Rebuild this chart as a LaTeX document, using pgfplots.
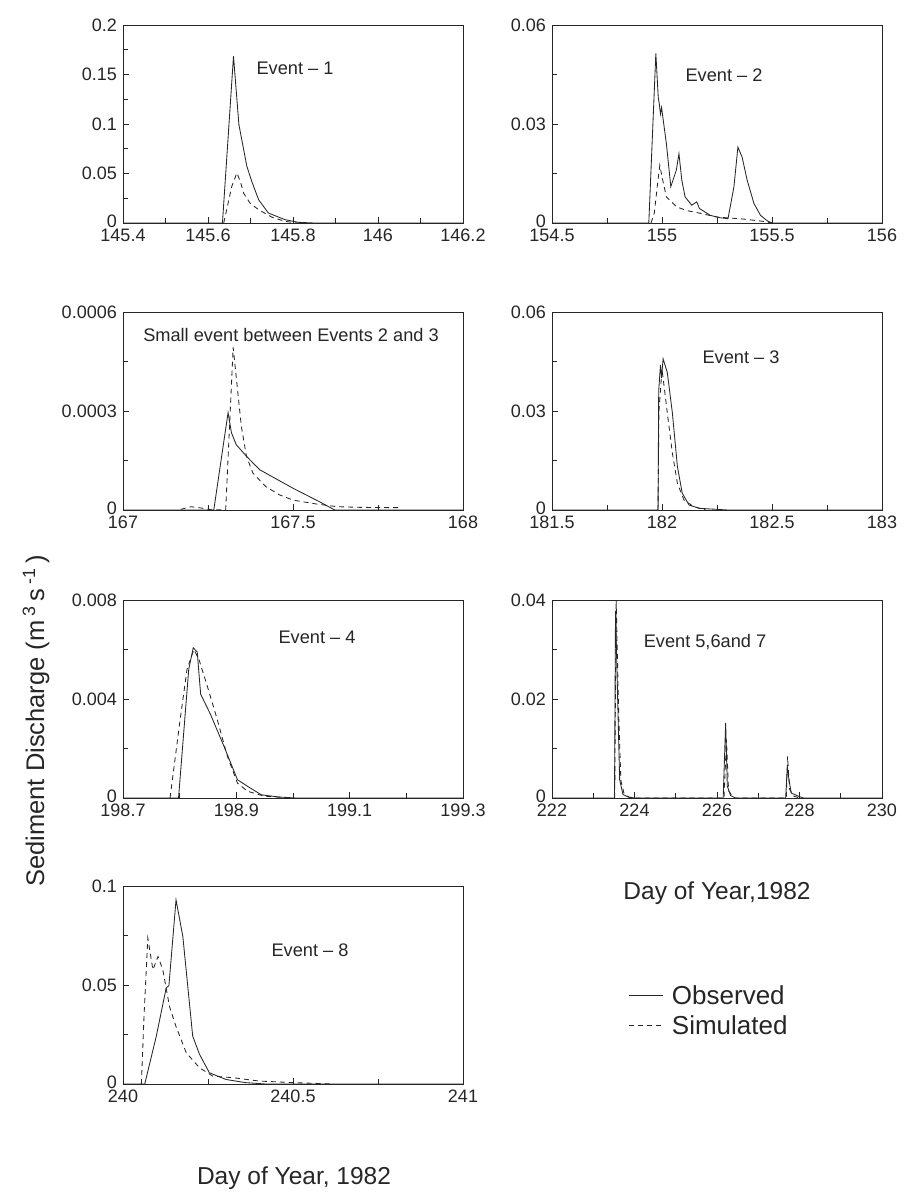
\documentclass[border=0pt]{standalone}
\usepackage{pgfplots}
\pgfplotsset{compat=1.18}
\usepackage{fontspec}
\setmainfont{Liberation Sans}
\newcommand{\tfont}{\fontsize{18}{20}\selectfont}
\newcommand{\efont}{\fontsize{18.2}{20}\selectfont}
\newcommand{\zr}{\raisebox{-4.5pt}[0pt][0pt]{0}}
\pgfplotsset{
  panel/.style={scale only axis, anchor=south west, height=198pt,
    axis line style={line width=0.9pt, black!85},
    tick align=inside, tick pos=left,
    major tick length=6pt, minor tick length=5pt,
    every tick/.style={black!85, line width=0.7pt},
    ticklabel style={font=\tfont, text=black!85},
    xticklabel style={inner sep=0pt, yshift=-6pt},
    yticklabel style={inner sep=1pt, xshift=-5pt},
    scaled ticks=false,
  },
  leftcol/.style={panel, width=340pt},
  rightcol/.style={panel, width=330pt},
  obs/.style={black!85, line width=0.85pt, mark=none, solid},
  sim/.style={black!85, line width=0.85pt, mark=none, dash pattern=on 5pt off 4pt},
}
\begin{document}
\begin{tikzpicture}
\path[use as bounding box] (0pt,0pt) rectangle (903pt,-1192pt);

% Panel 1
\begin{axis}[leftcol, at={(123pt,-223pt)},
  xmin=145.4, xmax=146.2, ymin=0, ymax=0.2,
  xtick={145.4,145.6,145.8,146,146.2}, xticklabels={145.4,145.6,145.8,146,146.2},
  minor xtick={145.5,145.7,145.9,146.1},
  ytick={0,0.05,0.1,0.15,0.2}, yticklabels={\zr,0.05,0.1,0.15,0.2},
  minor ytick={0.025,0.075,0.125,0.175}]
\addplot[obs] coordinates {(145.4,0) (145.634,0) (145.66,0.1685) (145.6727,0.0994) (145.6914,0.0573) (145.703,0.042) (145.719,0.0236) (145.742,0.0101) (145.781,0.0034) (145.8125,0.0007) (145.85,0) (146.2,0)};
\addplot[sim] coordinates {(145.637,0) (145.656,0.037) (145.668,0.0506) (145.676,0.042) (145.684,0.030) (145.699,0.020) (145.719,0.0135) (145.75,0.006) (145.781,0.0017) (145.81,0)};
\end{axis}

% Panel 2
\begin{axis}[rightcol, at={(552pt,-223pt)},
  xmin=154.5, xmax=156, ymin=0, ymax=0.06,
  xtick={154.5,155,155.5,156}, xticklabels={154.5,155,155.5,156},
  minor xtick={154.75,155.25,155.75},
  ytick={0,0.03,0.06}, yticklabels={\zr,0.03,0.06},
  minor ytick={0.015,0.045}]
\addplot[obs] coordinates {(154.5,0) (154.94,0) (154.972,0.0514) (154.983,0.038) (154.988,0.036) (154.993,0.033) (154.998,0.035) (155.004,0.032) (155.02,0.024) (155.04,0.011) (155.065,0.016) (155.077,0.021) (155.09,0.013) (155.105,0.0079) (155.135,0.0054) (155.158,0.0064) (155.17,0.0044) (155.22,0.0023) (155.264,0.0016) (155.30,0.0013) (155.327,0.011) (155.345,0.023) (155.364,0.020) (155.387,0.013) (155.418,0.0059) (155.448,0.0023) (155.48,0.0006) (155.5,0) (156,0)};
\addplot[sim] coordinates {(154.95,0) (154.965,0.003) (154.98,0.012) (154.99,0.0175) (155.0,0.014) (155.02,0.0079) (155.067,0.0049) (155.11,0.0038) (155.17,0.003) (155.25,0.0018) (155.37,0.0012) (155.46,0.0005) (155.5,0)};
\end{axis}

% Panel 3
\begin{axis}[leftcol, at={(123pt,-510pt)},
  xmin=167, xmax=168, ymin=0, ymax=0.0006,
  xtick={167,167.5,168}, xticklabels={167,167.5,168},
  minor xtick={167.25,167.75},
  ytick={0,0.0003,0.0006}, yticklabels={\zr,0.0003,0.0006},
  minor ytick={0.00015,0.00045}]
\addplot[obs] coordinates {(167,0) (167.267,0) (167.309,0.000295) (167.319,0.000234) (167.333,0.000198) (167.363,0.000163) (167.402,0.000122) (167.5,0.000066) (167.578,0.000025) (167.623,0) (168,0)};
\addplot[sim] coordinates {(167.17,0.000002) (167.2,0.00001) (167.23,0.000006) (167.26,0.000001) (167.302,0) (167.324,0.000493) (167.348,0.000254) (167.363,0.000163) (167.382,0.000112) (167.42,0.000071) (167.46,0.000046) (167.5,0.00003) (167.57,0.000018) (167.63,0.00001) (167.7,0.000008) (167.82,0.000007)};
\end{axis}

% Panel 4
\begin{axis}[rightcol, at={(552pt,-510pt)},
  xmin=181.5, xmax=183, ymin=0, ymax=0.06,
  xtick={181.5,182,182.5,183}, xticklabels={181.5,182,182.5,183},
  minor xtick={181.75,182.25,182.75},
  ytick={0,0.03,0.06}, yticklabels={\zr,0.03,0.06},
  minor ytick={0.015,0.045}]
\addplot[obs] coordinates {(181.5,0) (181.982,0) (181.985,0.036) (181.993,0.044) (181.998,0.040) (182.005,0.0458) (182.024,0.0417) (182.047,0.0295) (182.07,0.0132) (182.092,0.0051) (182.123,0.0015) (182.17,0.0005) (182.25,0.0002) (182.3,0) (183,0)};
\addplot[sim] coordinates {(181.982,0) (181.986,0.03) (182.0,0.0427) (182.024,0.0295) (182.047,0.0173) (182.07,0.0081) (182.1,0.003) (182.145,0.001) (182.2,0)};
\end{axis}

% Panel 5
\begin{axis}[leftcol, at={(123pt,-798pt)},
  xmin=198.7, xmax=199.3, ymin=0, ymax=0.008,
  xtick={198.7,198.9,199.1,199.3}, xticklabels={198.7,198.9,199.1,199.3},
  minor xtick={198.8,199.0,199.2},
  ytick={0,0.004,0.008}, yticklabels={\zr,0.004,0.008},
  minor ytick={0.002,0.006}]
\addplot[obs] coordinates {(198.7,0) (198.798,0) (198.816,0.0052) (198.824,0.00607) (198.831,0.0059) (198.837,0.0042) (198.854,0.0034) (198.878,0.0021) (198.902,0.00074) (198.92,0.00047) (198.944,0.00013) (198.975,0.00004) (199.005,0) (199.3,0)};
\addplot[sim] coordinates {(198.783,0) (198.801,0.0032) (198.813,0.0052) (198.825,0.006) (198.834,0.0056) (198.849,0.0045) (198.866,0.0032) (198.884,0.0017) (198.902,0.0006) (198.92,0.00027) (198.95,0.00007) (199.0,0)};
\end{axis}

% Panel 6
\begin{axis}[rightcol, at={(552pt,-798pt)},
  xmin=222, xmax=230, ymin=0, ymax=0.04,
  xtick={222,224,226,228,230}, xticklabels={222,224,226,228,230},
  minor xtick={223,225,227,229},
  ytick={0,0.02,0.04}, yticklabels={\zr,0.02,0.04},
  minor ytick={0.01,0.03}]
\addplot[obs] coordinates {(222,0) (223.515,0) (223.54,0.0378) (223.6,0.0172) (223.64,0.0037) (223.72,0.0007) (223.85,0.0002) (224.0,0) (226.15,0) (226.21,0.0152) (226.25,0.0024) (226.33,0.0005) (226.45,0) (227.665,0) (227.705,0.0064) (227.745,0.0037) (227.8,0.001) (227.99,0.0003) (228.1,0) (230,0)};
\addplot[sim] coordinates {(223.52,0) (223.555,0.04) (223.62,0.0159) (223.67,0.0035) (223.75,0.0008) (223.9,0) (226.17,0) (226.23,0.0118) (226.28,0.0015) (226.4,0) (227.68,0) (227.71,0.0084) (227.76,0.0018) (227.85,0.0004) (228.0,0)};
\end{axis}

% Panel 7
\begin{axis}[leftcol, at={(123pt,-1084pt)},
  xmin=240, xmax=241, ymin=0, ymax=0.1,
  xtick={240,240.5,241}, xticklabels={240,240.5,241},
  minor xtick={240.25,240.75},
  ytick={0,0.05,0.1}, yticklabels={\zr,0.05,0.1},
  minor ytick={0.025,0.075},
  legend style={at={(rel axis cs:1.485,0.505)}, anchor=north west, draw=none, fill=none,
    font=\fontsize{26}{28}\selectfont, row sep=8pt, column sep=8pt, inner sep=0pt,
    nodes={inner sep=1pt, text=black!85}},
  legend cell align=left,
  legend image code/.code={\draw[#1] (0pt,0pt) -- (34pt,0pt);}]
\addplot[obs] coordinates {(240,0) (240.064,0) (240.098,0.0242) (240.127,0.0485) (240.135,0.0497) (240.156,0.093) (240.176,0.0745) (240.205,0.0242) (240.225,0.015) (240.254,0.0057) (240.303,0.0023) (240.36,0.0007) (240.42,0) (241,0)};
\addlegendentry{Observed}
\addplot[sim] coordinates {(240.054,0) (240.062,0.035) (240.073,0.0737) (240.088,0.0577) (240.103,0.0644) (240.117,0.0577) (240.137,0.039) (240.156,0.029) (240.186,0.0158) (240.225,0.0082) (240.264,0.004) (240.323,0.0032) (240.4,0.0015) (240.5,0.0007) (240.57,0.0003) (240.62,0)};
\addlegendentry{Simulated}
\end{axis}

% Text labels
\node[font=\efont, text=black!85] at (295pt,-68pt) {Event -- 1};
\node[font=\efont, text=black!85] at (724pt,-75pt) {Event -- 2};
\node[font=\efont, text=black!85] at (291pt,-335pt) {Small event between Events 2 and 3};
\node[font=\efont, text=black!85] at (741pt,-357pt) {Event -- 3};
\node[font=\efont, text=black!85] at (317pt,-637pt) {Event -- 4};
\node[font=\efont, text=black!85] at (705pt,-642pt) {Event 5,6and 7};
\node[font=\efont, text=black!85] at (310pt,-950pt) {Event -- 8};
\node[font=\fontsize{24.5}{26}\selectfont, text=black!85] at (717pt,-893pt) {Day of Year,1982};
\node[font=\fontsize{24.5}{26}\selectfont, text=black!85] at (294pt,-1178pt) {Day of Year, 1982};
\node[font=\fontsize{25.5}{27}\selectfont, text=black!85, rotate=90] at (36pt,-721pt) {Sediment Discharge (m\,\textsuperscript{3}\,s\,\textsuperscript{-1}\,)};
\end{tikzpicture}
\end{document}
